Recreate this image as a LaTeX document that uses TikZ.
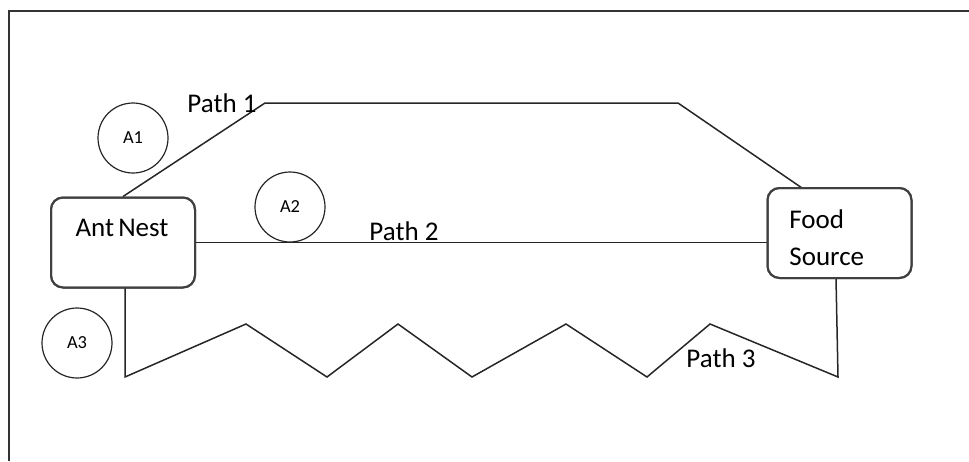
\documentclass[tikz,border=0pt]{standalone}
\usepackage{fontspec}
\setmainfont{Carlito}
\begin{document}
\begin{tikzpicture}[x=0.5pt,y=-0.5pt,
  ln/.style={draw=black!85, line width=0.75pt, line join=miter},
  boxnode/.style={draw=black!75, line width=1pt, rounded corners=6pt, fill=white, inner sep=0pt},
  antnode/.style={draw=black!85, line width=0.6pt, circle, fill=white, inner sep=0pt, minimum size=35pt, font=\fontsize{9.2}{11}\selectfont},
  lbl/.style={inner sep=0pt, font=\fontsize{13.5}{18.5}\selectfont}]
\useasboundingbox (0,0) rectangle (969,461);
% frame
\coordinate (fb) at (9,461);
\coordinate (ft) at (9,11);
\coordinate (fr) at (969,11);
\draw[draw=black!80, line width=0.8pt] (fb) -- (ft) -- (fr);
% boxes
\node[boxnode, minimum width=72pt, minimum height=45pt] (nest) at (123,242.5) {};
\node[boxnode, minimum width=72pt, minimum height=45pt] (food) at (839.5,233) {};
% coordinates
\coordinate (p1a) at (265,103);
\coordinate (p1b) at (678,103);
\coordinate (f1) at (802,188);
\coordinate (n3) at (125,288);
\coordinate (z0) at (125,377);
\coordinate (z1) at (246,324);
\coordinate (z2) at (327,377);
\coordinate (z3) at (398,324);
\coordinate (z4) at (472,377);
\coordinate (z5) at (566,324);
\coordinate (z6) at (647,377);
\coordinate (z7) at (710,324);
\coordinate (z8) at (838,377);
\coordinate (f3) at (836,278);
% paths
\draw[ln] (nest.north) -- (p1a) -- (p1b) -- (f1);
\draw[ln] (nest.east) -- (nest.east -| food.west);
\draw[ln] (n3) -- (z0) -- (z1) -- (z2) -- (z3) -- (z4) -- (z5) -- (z6) -- (z7) -- (z8) -- (f3);
% redraw boxes on top of line ends
\node[boxnode, minimum width=72pt, minimum height=45pt, fill=none] at (nest) {};
\node[boxnode, minimum width=72pt, minimum height=45pt, fill=none] at (food) {};
% texts
\node[lbl] (nestlbl) at (122,228) {Ant\kern-1pt\ Nest};
\node[lbl, align=left, anchor=west] (foodlbl) at (789,238) {Food\\Source};
\node[lbl] (path1) at (222,103) {Path 1};
\node[lbl] (path2) at (404,231) {Path 2};
\node[lbl] (path3) at (721,358) {Path 3};
% ants
\node[antnode] (a1) at (133,138) {A1};
\node[antnode] (a2) at (290,207) {A2};
\node[antnode] (a3) at (77,343) {A3};
\end{tikzpicture}
\end{document}
